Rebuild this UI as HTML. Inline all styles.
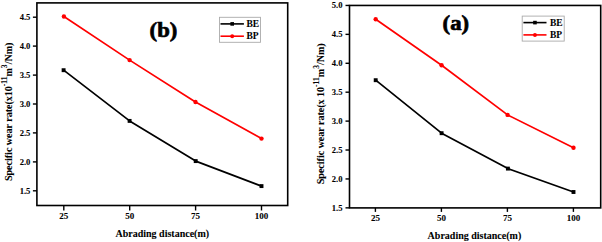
<!DOCTYPE html>
<html><head><meta charset="utf-8"><style>
html,body{margin:0;padding:0;background:#fff;width:602px;height:242px;overflow:hidden}
svg{display:block}
text{font-family:"Liberation Serif",serif;font-weight:bold;fill:#000;stroke:#000;stroke-width:0.08px}
</style></head><body>
<svg width="602" height="242" viewBox="0 0 602 242">
<rect width="602" height="242" fill="#fff"/>
<polyline points="63.6,70.2 129.6,120.9 195.7,161.1 261.5,186.1" fill="none" stroke="#000" stroke-width="1.70" stroke-linejoin="round"/>
<rect x="61.65" y="68.25" width="3.9" height="3.9" fill="#000"/>
<rect x="127.65" y="118.95" width="3.9" height="3.9" fill="#000"/>
<rect x="193.75" y="159.15" width="3.9" height="3.9" fill="#000"/>
<rect x="259.55" y="184.15" width="3.9" height="3.9" fill="#000"/>
<polyline points="63.9,16.5 129.6,60.1 195.5,102.0 261.5,138.6" fill="none" stroke="#f00" stroke-width="1.70" stroke-linejoin="round"/>
<circle cx="63.90" cy="16.50" r="2.2" fill="#f00"/>
<circle cx="129.60" cy="60.10" r="2.2" fill="#f00"/>
<circle cx="195.50" cy="102.00" r="2.2" fill="#f00"/>
<circle cx="261.50" cy="138.60" r="2.2" fill="#f00"/>
<rect x="36.90" y="2.90" width="250.80" height="202.60" fill="none" stroke="#000" stroke-width="1.60"/>
<line x1="32.90" y1="17.20" x2="36.90" y2="17.20" stroke="#000" stroke-width="1.4"/>
<text x="30.40" y="20.20" text-anchor="end" font-size="8.60">4.5</text>
<line x1="32.90" y1="46.10" x2="36.90" y2="46.10" stroke="#000" stroke-width="1.4"/>
<text x="30.40" y="49.10" text-anchor="end" font-size="8.60">4.0</text>
<line x1="32.90" y1="75.10" x2="36.90" y2="75.10" stroke="#000" stroke-width="1.4"/>
<text x="30.40" y="78.10" text-anchor="end" font-size="8.60">3.5</text>
<line x1="32.90" y1="104.00" x2="36.90" y2="104.00" stroke="#000" stroke-width="1.4"/>
<text x="30.40" y="107.00" text-anchor="end" font-size="8.60">3.0</text>
<line x1="32.90" y1="132.90" x2="36.90" y2="132.90" stroke="#000" stroke-width="1.4"/>
<text x="30.40" y="135.90" text-anchor="end" font-size="8.60">2.5</text>
<line x1="32.90" y1="161.90" x2="36.90" y2="161.90" stroke="#000" stroke-width="1.4"/>
<text x="30.40" y="164.90" text-anchor="end" font-size="8.60">2.0</text>
<line x1="32.90" y1="190.80" x2="36.90" y2="190.80" stroke="#000" stroke-width="1.4"/>
<text x="30.40" y="193.80" text-anchor="end" font-size="8.60">1.5</text>
<line x1="63.80" y1="205.50" x2="63.80" y2="210.50" stroke="#000" stroke-width="1.4"/>
<text x="63.80" y="219.40" text-anchor="middle" font-size="9.00">25</text>
<line x1="129.70" y1="205.50" x2="129.70" y2="210.50" stroke="#000" stroke-width="1.4"/>
<text x="129.70" y="219.40" text-anchor="middle" font-size="9.00">50</text>
<line x1="195.60" y1="205.50" x2="195.60" y2="210.50" stroke="#000" stroke-width="1.4"/>
<text x="195.60" y="219.40" text-anchor="middle" font-size="9.00">75</text>
<line x1="261.50" y1="205.50" x2="261.50" y2="210.50" stroke="#000" stroke-width="1.4"/>
<text x="261.50" y="219.40" text-anchor="middle" font-size="9.00">100</text>
<text x="115.50" y="236.90" font-size="10">Abrading distance(m)</text>
<text transform="translate(12.40 181.00) rotate(-90)" font-size="10.0">Specific wear rate(x10<tspan dy="-5.0" font-size="7.6">-11</tspan><tspan dy="5.0">m</tspan><tspan dy="-5.0" font-size="7.6">3</tspan><tspan dy="5.0">/Nm)</tspan></text>
<text transform="translate(149.60 36.60) scale(1.080 1)" font-size="21.0" style="stroke-width:0.7px">(b)</text>
<rect x="219.50" y="17.30" width="41.00" height="25.00" fill="none" stroke="#aaa" stroke-width="0.9"/>
<line x1="220.50" y1="23.90" x2="243.90" y2="23.90" stroke="#000" stroke-width="1.6"/>
<rect x="230.40" y="22.10" width="3.6" height="3.6" fill="#000"/>
<line x1="220.50" y1="36.20" x2="243.90" y2="36.20" stroke="#f00" stroke-width="1.6"/>
<circle cx="232.20" cy="36.20" r="2.0" fill="#f00"/>
<text x="246.50" y="26.90" font-size="9.5">BE</text>
<text x="246.50" y="39.00" font-size="9.5">BP</text>
<polyline points="375.7,80.2 441.6,133.2 507.9,168.6 573.5,192.0" fill="none" stroke="#000" stroke-width="1.70" stroke-linejoin="round"/>
<rect x="373.75" y="78.25" width="3.9" height="3.9" fill="#000"/>
<rect x="439.65" y="131.25" width="3.9" height="3.9" fill="#000"/>
<rect x="505.95" y="166.65" width="3.9" height="3.9" fill="#000"/>
<rect x="571.55" y="190.05" width="3.9" height="3.9" fill="#000"/>
<polyline points="375.7,19.2 441.6,65.2 507.6,114.9 573.5,147.7" fill="none" stroke="#f00" stroke-width="1.70" stroke-linejoin="round"/>
<circle cx="375.70" cy="19.25" r="2.2" fill="#f00"/>
<circle cx="441.60" cy="65.20" r="2.2" fill="#f00"/>
<circle cx="507.60" cy="114.90" r="2.2" fill="#f00"/>
<circle cx="573.50" cy="147.70" r="2.2" fill="#f00"/>
<rect x="349.50" y="5.45" width="251.20" height="202.45" fill="none" stroke="#000" stroke-width="1.60"/>
<line x1="345.50" y1="5.45" x2="349.50" y2="5.45" stroke="#000" stroke-width="1.4"/>
<text x="342.50" y="8.45" text-anchor="end" font-size="8.60">5.0</text>
<line x1="345.50" y1="34.36" x2="349.50" y2="34.36" stroke="#000" stroke-width="1.4"/>
<text x="342.50" y="37.36" text-anchor="end" font-size="8.60">4.5</text>
<line x1="345.50" y1="63.28" x2="349.50" y2="63.28" stroke="#000" stroke-width="1.4"/>
<text x="342.50" y="66.28" text-anchor="end" font-size="8.60">4.0</text>
<line x1="345.50" y1="92.19" x2="349.50" y2="92.19" stroke="#000" stroke-width="1.4"/>
<text x="342.50" y="95.19" text-anchor="end" font-size="8.60">3.5</text>
<line x1="345.50" y1="121.11" x2="349.50" y2="121.11" stroke="#000" stroke-width="1.4"/>
<text x="342.50" y="124.11" text-anchor="end" font-size="8.60">3.0</text>
<line x1="345.50" y1="150.02" x2="349.50" y2="150.02" stroke="#000" stroke-width="1.4"/>
<text x="342.50" y="153.02" text-anchor="end" font-size="8.60">2.5</text>
<line x1="345.50" y1="178.94" x2="349.50" y2="178.94" stroke="#000" stroke-width="1.4"/>
<text x="342.50" y="181.94" text-anchor="end" font-size="8.60">2.0</text>
<line x1="345.50" y1="207.85" x2="349.50" y2="207.85" stroke="#000" stroke-width="1.4"/>
<text x="342.50" y="210.85" text-anchor="end" font-size="8.60">1.5</text>
<line x1="375.40" y1="207.90" x2="375.40" y2="211.90" stroke="#000" stroke-width="1.4"/>
<text x="375.40" y="221.30" text-anchor="middle" font-size="9.00">25</text>
<line x1="441.40" y1="207.90" x2="441.40" y2="211.90" stroke="#000" stroke-width="1.4"/>
<text x="441.40" y="221.30" text-anchor="middle" font-size="9.00">50</text>
<line x1="507.40" y1="207.90" x2="507.40" y2="211.90" stroke="#000" stroke-width="1.4"/>
<text x="507.40" y="221.30" text-anchor="middle" font-size="9.00">75</text>
<line x1="573.40" y1="207.90" x2="573.40" y2="211.90" stroke="#000" stroke-width="1.4"/>
<text x="573.40" y="221.30" text-anchor="middle" font-size="9.00">100</text>
<text x="427.60" y="238.50" font-size="10">Abrading distance(m)</text>
<text transform="translate(323.70 184.20) rotate(-90)" font-size="10.0">Specific wear rate(x 10<tspan dy="-5.0" font-size="7.6">-11</tspan><tspan dy="5.0">m</tspan><tspan dy="-5.0" font-size="7.6">3</tspan><tspan dy="5.0">/Nm)</tspan></text>
<text transform="translate(442.60 29.80) scale(1.080 1)" font-size="21.0" style="stroke-width:0.7px">(a)</text>
<rect x="522.20" y="16.10" width="42.00" height="25.00" fill="none" stroke="#aaa" stroke-width="0.9"/>
<line x1="523.40" y1="22.60" x2="546.50" y2="22.60" stroke="#000" stroke-width="1.6"/>
<rect x="533.15" y="20.80" width="3.6" height="3.6" fill="#000"/>
<line x1="523.40" y1="34.90" x2="546.50" y2="34.90" stroke="#f00" stroke-width="1.6"/>
<circle cx="534.95" cy="34.90" r="2.0" fill="#f00"/>
<text x="549.90" y="25.50" font-size="9.5">BE</text>
<text x="549.90" y="38.20" font-size="9.5">BP</text>
</svg>
</body></html>
